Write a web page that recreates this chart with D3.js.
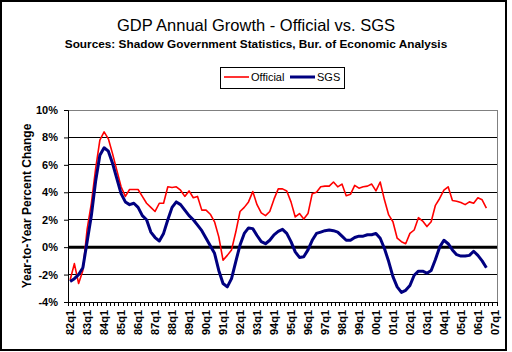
<!DOCTYPE html>
<html>
<head>
<meta charset="utf-8">
<script src="https://cdn.jsdelivr.net/npm/d3@7"></script>
<style>
  body { margin: 0; background: #fff; }
  svg { display: block; font-family: "Liberation Sans", Arial, sans-serif; }
</style>
</head>
<body>
<div id="chart"></div>
<script>
// quarters 82q1 .. 07q1 (axis runs one step past the last data point)
const years = d3.range(82, 107).map(y => String(y % 100).padStart(2, "0"));
const quarters = [];
years.forEach(y => { for (let q = 1; q <= 4; q++) quarters.push(y + "q" + q); });
quarters.push("07q1");
const tickLabels = quarters.filter((d, i) => i % 4 === 0);

const yTicks = [-4, -2, 0, 2, 4, 6, 8, 10];

const official = [
	-2.4, -1.2, -2.65, -1.7, 1.3, 3.2, 5.7, 7.8, 8.4, 7.9,
	6.8, 5.6, 4.4, 3.7, 4.2, 4.2, 4.2, 3.7, 3.2, 2.9,
	2.6, 3.2, 3.2, 4.4, 4.35, 4.4, 4.15, 3.7, 4.1, 3.6,
	3.7, 2.7, 2.7, 2.4, 1.85, 0.75, -0.95, -0.6, -0.2, 1.1,
	2.6, 2.9, 3.3, 4.05, 3.1, 2.5, 2.3, 2.6, 3.5, 4.25,
	4.25, 4.1, 3.3, 2.2, 2.45, 2.05, 2.45, 3.9, 4.0, 4.4,
	4.45, 4.45, 4.75, 4.4, 4.6, 3.75, 3.85, 4.5, 4.3, 4.4,
	4.45, 4.6, 4.1, 4.75, 3.45, 2.35, 1.85, 0.65, 0.4, 0.25,
	1.0, 1.25, 2.15, 1.9, 1.5, 1.85, 3.05, 3.55, 4.15, 4.4,
	3.4, 3.35, 3.25, 3.1, 3.3, 3.2, 3.6, 3.45, 2.85
];

const sgs = [
	-2.5, -2.3, -2.0, -1.5, 0.4, 2.3, 4.8, 6.7, 7.25, 7.0,
	6.1, 5.0, 3.9, 3.3, 3.1, 3.2, 2.9, 2.3, 2.0, 1.1,
	0.7, 0.45, 1.0, 2.0, 2.9, 3.3, 3.1, 2.7, 2.3, 2.0,
	1.6, 1.2, 0.65, 0.1, -0.45, -1.7, -2.65, -2.9, -2.3, -1.05,
	0.15, 1.0, 1.4, 1.35, 0.85, 0.4, 0.25, 0.5, 0.9, 1.15,
	1.3, 1.0, 0.4, -0.35, -0.75, -0.7, -0.2, 0.5, 1.0, 1.1,
	1.2, 1.25, 1.2, 1.1, 0.8, 0.5, 0.5, 0.7, 0.8, 0.8,
	0.9, 0.9, 1.0, 0.65, -0.1, -1.05, -2.15, -2.9, -3.3, -3.15,
	-2.8, -2.05, -1.75, -1.75, -1.9, -1.7, -0.9, 0, 0.5, 0.25,
	-0.2, -0.55, -0.65, -0.65, -0.6, -0.3, -0.6, -1.0, -1.5
];

const width = 512, height = 352;
const margin = {top: 110, right: 15, bottom: 50, left: 68};

const svg = d3.select("#chart").append("svg")
	.attr("width", width)
	.attr("height", height);

// outer chart frame
svg.append("rect")
	.attr("x", 1).attr("y", 1)
	.attr("width", 505).attr("height", 349)
	.attr("fill", "#fff")
	.attr("stroke", "#000")
	.attr("stroke-width", 2);

svg.append("text")
	.attr("x", 256).attr("y", 31)
	.attr("text-anchor", "middle")
	.style("font-size", "16.5px")
	.text("GDP Annual Growth - Official vs. SGS");

svg.append("text")
	.attr("x", 256).attr("y", 48)
	.attr("text-anchor", "middle")
	.style("font-size", "11.8px")
	.style("font-weight", "bold")
	.text("Sources: Shadow Government Statistics, Bur. of Economic Analysis");

let x = d3.scaleBand()
	.domain(quarters)
	.range([margin.left, width - margin.right])
	.padding(0);

let y = d3.scaleLinear()
	.domain([-4, 10])
	.range([height - margin.bottom, margin.top]);

const bw = x.bandwidth();
const cx = (d, i) => x(quarters[i]) + bw / 2;

// gridlines
svg.append("g")
	.selectAll("line")
	.data(yTicks.filter(d => d !== -4 && d !== 0 && d !== 10))
	.enter().append("line")
	.attr("x1", margin.left).attr("x2", width - margin.right)
	.attr("y1", d => y(d)).attr("y2", d => y(d))
	.attr("stroke", "#000")
	.attr("stroke-width", 1)
	.attr("shape-rendering", "crispEdges");

// plot area border top/right (grey)
svg.append("path")
	.attr("d", `M${margin.left},${y(10)}H${width - margin.right}V${y(-4)}`)
	.attr("fill", "none")
	.attr("stroke", "#808080")
	.attr("stroke-width", 1)
	.attr("shape-rendering", "crispEdges");

// y axis
let yAxis = g => g
	.attr("transform", `translate(${margin.left},0)`)
	.call(d3.axisLeft(y).tickValues(yTicks).tickSize(4).tickPadding(6).tickFormat(d => d + "%"));

svg.append("g")
	.style("font", "bold 11px 'Liberation Sans', Arial, sans-serif")
	.call(yAxis)
	.call(g => g.select(".domain").attr("stroke", "#000"));

// x axis: ticks between every quarter
const xBase = y(-4);
svg.append("line")
	.attr("x1", margin.left).attr("x2", width - margin.right)
	.attr("y1", xBase).attr("y2", xBase)
	.attr("stroke", "#000")
	.attr("shape-rendering", "crispEdges");

svg.append("g")
	.selectAll("line")
	.data(d3.range(quarters.length + 1))
	.enter().append("line")
	.attr("x1", d => margin.left + d * bw).attr("x2", d => margin.left + d * bw)
	.attr("y1", xBase).attr("y2", xBase + 4)
	.attr("stroke", "#000")
	.attr("shape-rendering", "crispEdges");

svg.append("g")
	.selectAll("text")
	.data(tickLabels)
	.enter().append("text")
	.attr("transform", d => `translate(${x(d) + bw / 2 + 0.5},${xBase + 8}) rotate(-90)`)
	.attr("text-anchor", "end")
	.attr("dy", "0.35em")
	.style("font", "bold 11px 'Liberation Sans', Arial, sans-serif")
	.text(d => d);

// zero line
svg.append("line")
	.attr("x1", margin.left).attr("x2", width - margin.right)
	.attr("y1", y(0)).attr("y2", y(0))
	.attr("stroke", "#000")
	.attr("stroke-width", 3);

// y axis title
svg.append("text")
	.attr("transform", `translate(27,${(y(10) + y(-4)) / 2}) rotate(-90)`)
	.attr("text-anchor", "middle")
	.attr("dy", "0.35em")
	.style("font-size", "12px")
	.style("font-weight", "bold")
	.text("Year-to-Year Percent Change");

// series
let line = d3.line()
	.x((d, i) => cx(d, i))
	.y(d => y(d));

svg.append("path")
	.datum(official)
	.attr("d", line)
	.attr("fill", "none")
	.attr("stroke", "#ff0000")
	.attr("stroke-width", 1.6)
	.attr("stroke-linejoin", "round");

svg.append("path")
	.datum(sgs)
	.attr("d", line)
	.attr("fill", "none")
	.attr("stroke", "#000080")
	.attr("stroke-width", 3)
	.attr("stroke-linejoin", "round");

// legend
let legend = svg.append("g");
legend.append("rect")
	.attr("x", 220.5).attr("y", 67.5)
	.attr("width", 124).attr("height", 21)
	.attr("fill", "#fff")
	.attr("stroke", "#000");

const legendItems = [
	{name: "Official", color: "#ff0000", w: 1.6, x: 224},
	{name: "SGS", color: "#000080", w: 3, x: 290}
];
legendItems.forEach(d => {
	legend.append("line")
		.attr("x1", d.x).attr("x2", d.x + 25)
		.attr("y1", 77).attr("y2", 77)
		.attr("stroke", d.color)
		.attr("stroke-width", d.w);
	legend.append("text")
		.attr("x", d.x + 27).attr("y", 81)
		.style("font-size", "11px")
		.text(d.name);
});
</script>
</body>
</html>
